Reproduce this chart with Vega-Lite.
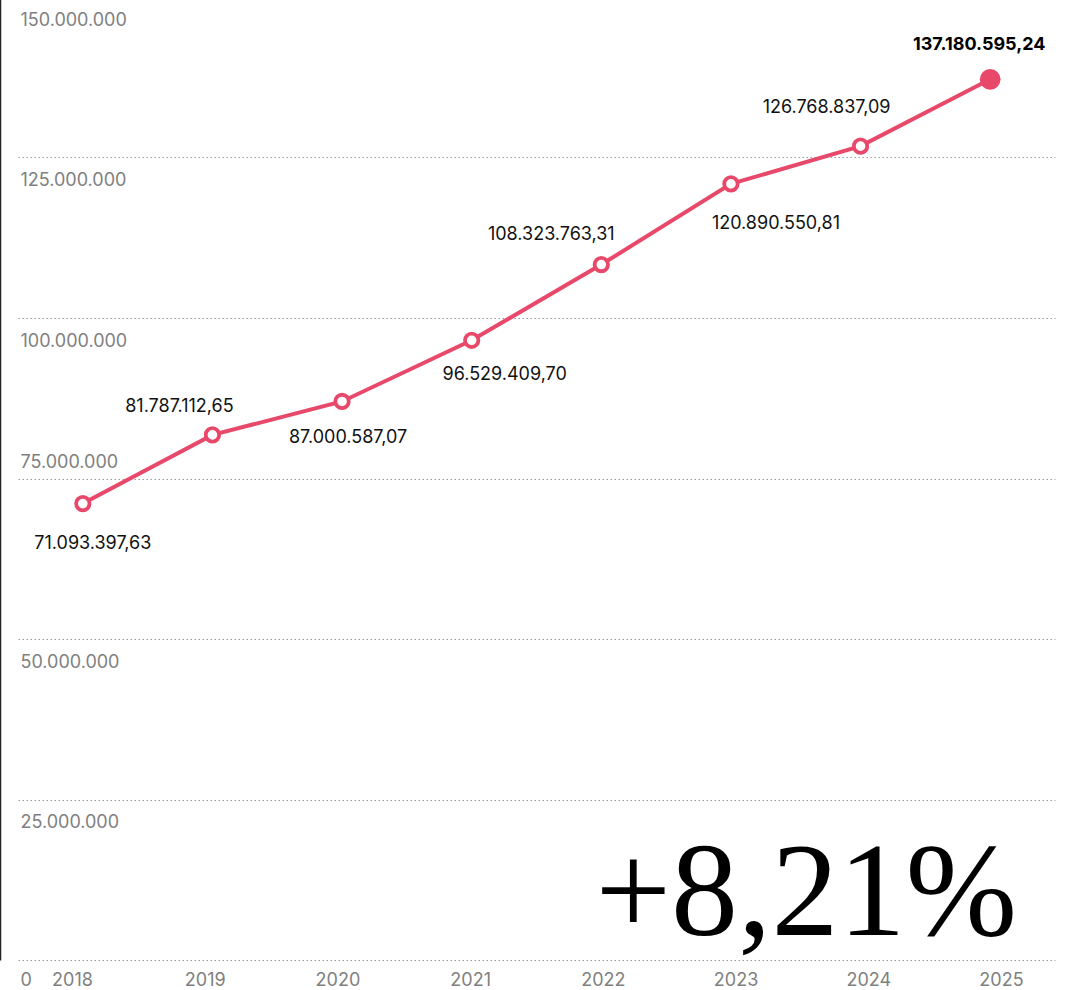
{
  "$schema": "https://vega.github.io/schema/vega-lite/v6.json",
  "autosize": {"type": "none"},
  "width": 1037,
  "height": 963,
  "padding": {"left": 18, "top": -3, "right": 16, "bottom": 30},
  "background": "white",
  "config": {
    "view": {"stroke": null},
    "font": "Inter",
    "locale": {"number": {"decimal": ",", "thousands": ".", "grouping": [3], "currency": ["", " €"]}}
  },
  "data": {
    "values": [
      {"year": "2018", "value": 71093397.63},
      {"year": "2019", "value": 81787112.65},
      {"year": "2020", "value": 87000587.07},
      {"year": "2021", "value": 96529409.70},
      {"year": "2022", "value": 108323763.31},
      {"year": "2023", "value": 120890550.81},
      {"year": "2024", "value": 126768837.09},
      {"year": "2025", "value": 137180595.24}
    ]
  },
  "resolve": {"scale": {"x": "independent"}, "axis": {"x": "independent"}},
  "layer": [
    {
      "mark": {"type": "point", "opacity": 0},
      "encoding": {
        "x": {
          "field": "year", "type": "ordinal",
          "scale": {"type": "point", "padding": 0.407},
          "axis": {
            "title": null, "orient": "bottom", "domain": false, "ticks": false, "grid": false,
            "labelFont": "Inter", "labelFontSize": 18, "labelColor": "#808080",
            "labelBaseline": "alphabetic", "labelPadding": 25, "labelAngle": 0
          }
        }
      }
    },
    {
      "encoding": {
        "x": {"field": "year", "type": "ordinal", "scale": {"type": "point", "padding": 0.5}, "axis": null},
        "y": {
          "field": "value", "type": "quantitative",
          "scale": {"domain": [0, 150000000], "nice": false, "zero": true},
          "axis": {
            "title": null, "orient": "left", "offset": 18,
            "values": [0, 25000000, 50000000, 75000000, 100000000, 125000000, 150000000],
            "format": ",.0f",
            "domain": true, "domainColor": "#222222", "domainWidth": 1.5,
            "ticks": false, "tickSize": 0,
            "grid": true, "gridColor": "#9a9a9a", "gridDash": [1.5, 2.5], "gridWidth": 1,
            "labelFont": "Inter", "labelFontSize": 18, "labelColor": "#808080",
            "labelAlign": "left", "labelBaseline": "alphabetic", "labelPadding": -20,
            "labelOffset": {"condition": [
              {"test": "datum.value == 75000000", "value": -11},
              {"test": "datum.value == 0", "value": 25}
            ], "value": 28},
            "labelFlush": false, "labelOverlap": false, "labelBound": false
          }
        }
      },
      "layer": [
        {"mark": {"type": "line", "color": "#E8496A", "strokeWidth": 4}},
        {
          "transform": [{"filter": "datum.year != '2025'"}],
          "mark": {"type": "point", "filled": true, "fill": "white", "stroke": "#E8496A", "strokeWidth": 3.8, "size": 180, "opacity": 1}
        },
        {
          "transform": [{"filter": "datum.year == '2025'"}],
          "mark": {"type": "point", "filled": true, "color": "#E8496A", "size": 430, "opacity": 1}
        },
        {
          "transform": [{"filter": "datum.year == '2018'"}],
          "mark": {"type": "text", "font": "Inter", "fontSize": 18, "color": "#111111", "align": "center", "baseline": "alphabetic", "dx": 10, "dy": 45},
          "encoding": {"text": {"field": "value", "type": "quantitative", "format": ",.2f"}}
        },
        {
          "transform": [{"filter": "datum.year == '2019'"}],
          "mark": {"type": "text", "font": "Inter", "fontSize": 18, "color": "#111111", "align": "center", "baseline": "alphabetic", "dx": -33, "dy": -23},
          "encoding": {"text": {"field": "value", "type": "quantitative", "format": ",.2f"}}
        },
        {
          "transform": [{"filter": "datum.year == '2020'"}],
          "mark": {"type": "text", "font": "Inter", "fontSize": 18, "color": "#111111", "align": "center", "baseline": "alphabetic", "dx": 6, "dy": 42},
          "encoding": {"text": {"field": "value", "type": "quantitative", "format": ",.2f"}}
        },
        {
          "transform": [{"filter": "datum.year == '2021'"}],
          "mark": {"type": "text", "font": "Inter", "fontSize": 18, "color": "#111111", "align": "center", "baseline": "alphabetic", "dx": 33, "dy": 40},
          "encoding": {"text": {"field": "value", "type": "quantitative", "format": ",.2f"}}
        },
        {
          "transform": [{"filter": "datum.year == '2022'"}],
          "mark": {"type": "text", "font": "Inter", "fontSize": 18, "color": "#111111", "align": "center", "baseline": "alphabetic", "dx": -50, "dy": -25},
          "encoding": {"text": {"field": "value", "type": "quantitative", "format": ",.2f"}}
        },
        {
          "transform": [{"filter": "datum.year == '2023'"}],
          "mark": {"type": "text", "font": "Inter", "fontSize": 18, "color": "#111111", "align": "center", "baseline": "alphabetic", "dx": 45, "dy": 45},
          "encoding": {"text": {"field": "value", "type": "quantitative", "format": ",.2f"}}
        },
        {
          "transform": [{"filter": "datum.year == '2024'"}],
          "mark": {"type": "text", "font": "Inter", "fontSize": 18, "color": "#111111", "align": "center", "baseline": "alphabetic", "dx": -34, "dy": -33},
          "encoding": {"text": {"field": "value", "type": "quantitative", "format": ",.2f"}}
        },
        {
          "transform": [{"filter": "datum.year == '2025'"}],
          "mark": {"type": "text", "font": "Inter", "fontSize": 18, "fontWeight": "bold", "color": "#000000", "align": "center", "baseline": "alphabetic", "dx": -11, "dy": -29},
          "encoding": {"text": {"field": "value", "type": "quantitative", "format": ",.2f"}}
        },
        {
          "transform": [{"filter": "datum.year == '2025'"}],
          "mark": {"type": "text", "text": "+8,21%", "font": "Liberation Serif", "fontSize": 134, "fontWeight": "normal", "color": "#000000", "align": "right", "baseline": "alphabetic", "dx": 27, "dy": -25},
          "encoding": {
            "y": {"datum": 0, "type": "quantitative"}
          }
        }
      ]
    }
  ]
}
